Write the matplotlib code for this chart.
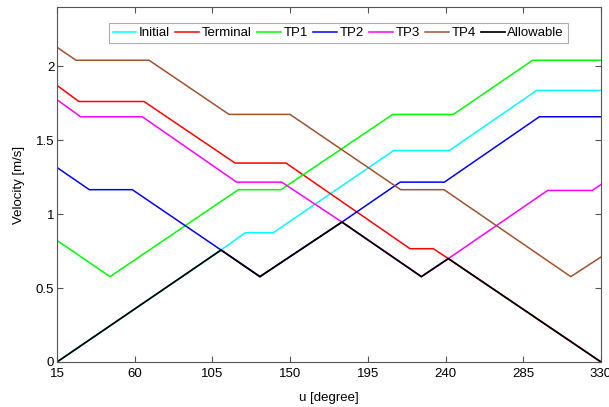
import matplotlib
matplotlib.use("Agg")
import matplotlib.pyplot as plt

plt.rcParams['font.family'] = ['Liberation Sans', 'DejaVu Sans']

# Data (breakpoints: angle [degree], velocity [m/s])
initial_u = [15, 110, 124, 140.2, 210, 242.2, 292.7, 330]
initial_v = [0, 0.757, 0.874, 0.874, 1.43, 1.43, 1.836, 1.836]

terminal_u = [15, 27.7, 65.4, 118.1, 147.6, 219.4, 232.9, 241.6, 330]
terminal_v = [1.87, 1.761, 1.761, 1.345, 1.345, 0.766, 0.766, 0.699, 0]

tp1_u = [15, 45.7, 120.0, 144.7, 209.4, 244.5, 290.4, 330]
tp1_v = [0.822, 0.577, 1.165, 1.165, 1.674, 1.674, 2.04, 2.04]

tp2_u = [15, 33.7, 58.6, 110, 132.5, 180, 213.7, 239.3, 294.3, 330]
tp2_v = [1.315, 1.165, 1.165, 0.757, 0.577, 0.946, 1.216, 1.216, 1.658, 1.658]

tp3_u = [15, 28.7, 64.4, 119.0, 145.1, 180, 226, 241.6, 299.1, 324.9, 330]
tp3_v = [1.773, 1.658, 1.658, 1.216, 1.216, 0.946, 0.577, 0.699, 1.16, 1.16, 1.2]

tp4_u = [15, 26.0, 68.3, 114.6, 149.9, 214.0, 239.1, 312.5, 330]
tp4_v = [2.128, 2.04, 2.04, 1.674, 1.674, 1.165, 1.165, 0.577, 0.71]

allow_u = [15, 110, 132.5, 180, 226, 241.6, 330]
allow_v = [0, 0.757, 0.577, 0.946, 0.577, 0.699, 0]

series_labels = ["Initial", "Terminal", "TP1", "TP2", "TP3", "TP4", "Allowable"]
x_ticks = [15, 60, 105, 150, 195, 240, 285, 330]
y_ticks = [0, 0.5, 1, 1.5, 2]
y_tick_labels = ["0", "0.5", "1", "1.5", "2"]

colors = ["#00FFFF", "#FF0000", "#00FF00", "#0000FF", "#FF00FF", "#A0522D", "#000000"]
widths = [1.1, 1.1, 1.1, 1.1, 1.1, 1.1, 1.25]

fig = plt.figure(figsize=(6.09, 4.07), dpi=100)
ax = fig.add_axes([57/609, 1-362/407, (601-57)/609, (362-7)/407])

data = [(initial_u, initial_v), (terminal_u, terminal_v), (tp1_u, tp1_v),
        (tp2_u, tp2_v), (tp3_u, tp3_v), (tp4_u, tp4_v), (allow_u, allow_v)]
for (u, v), lab, c, w in zip(data, series_labels, colors, widths):
    ax.plot(u, v, color=c, lw=w, label=lab)

ax.set_xlim(15, 330)
ax.set_ylim(0, 2.4)
ax.set_xticks(x_ticks)
ax.set_yticks(y_ticks)
ax.set_yticklabels(y_tick_labels)
ax.tick_params(direction='in', top=True, right=True, labelsize=9.5, length=4,
               color='#555555', width=0.8)
ax.tick_params(axis='x', pad=4)
ax.tick_params(axis='y', pad=2)
for s in ax.spines.values():
    s.set_color('#555555')
    s.set_linewidth(0.8)

ax.set_xlabel("u [degree]", fontsize=9.5, labelpad=9)
ax.set_ylabel("Velocity [m/s]", fontsize=9.5, labelpad=8)

leg = ax.legend(loc='upper center', bbox_to_anchor=(0.517, 0.955), ncol=7,
                fontsize=9.5, frameon=True, fancybox=False, handlelength=1.8,
                handletextpad=0.2, columnspacing=0.4, borderpad=0.3,
                borderaxespad=0)
leg.get_frame().set_edgecolor('#999999')
leg.get_frame().set_linewidth(0.8)

fig.savefig("out.png", dpi=100)
